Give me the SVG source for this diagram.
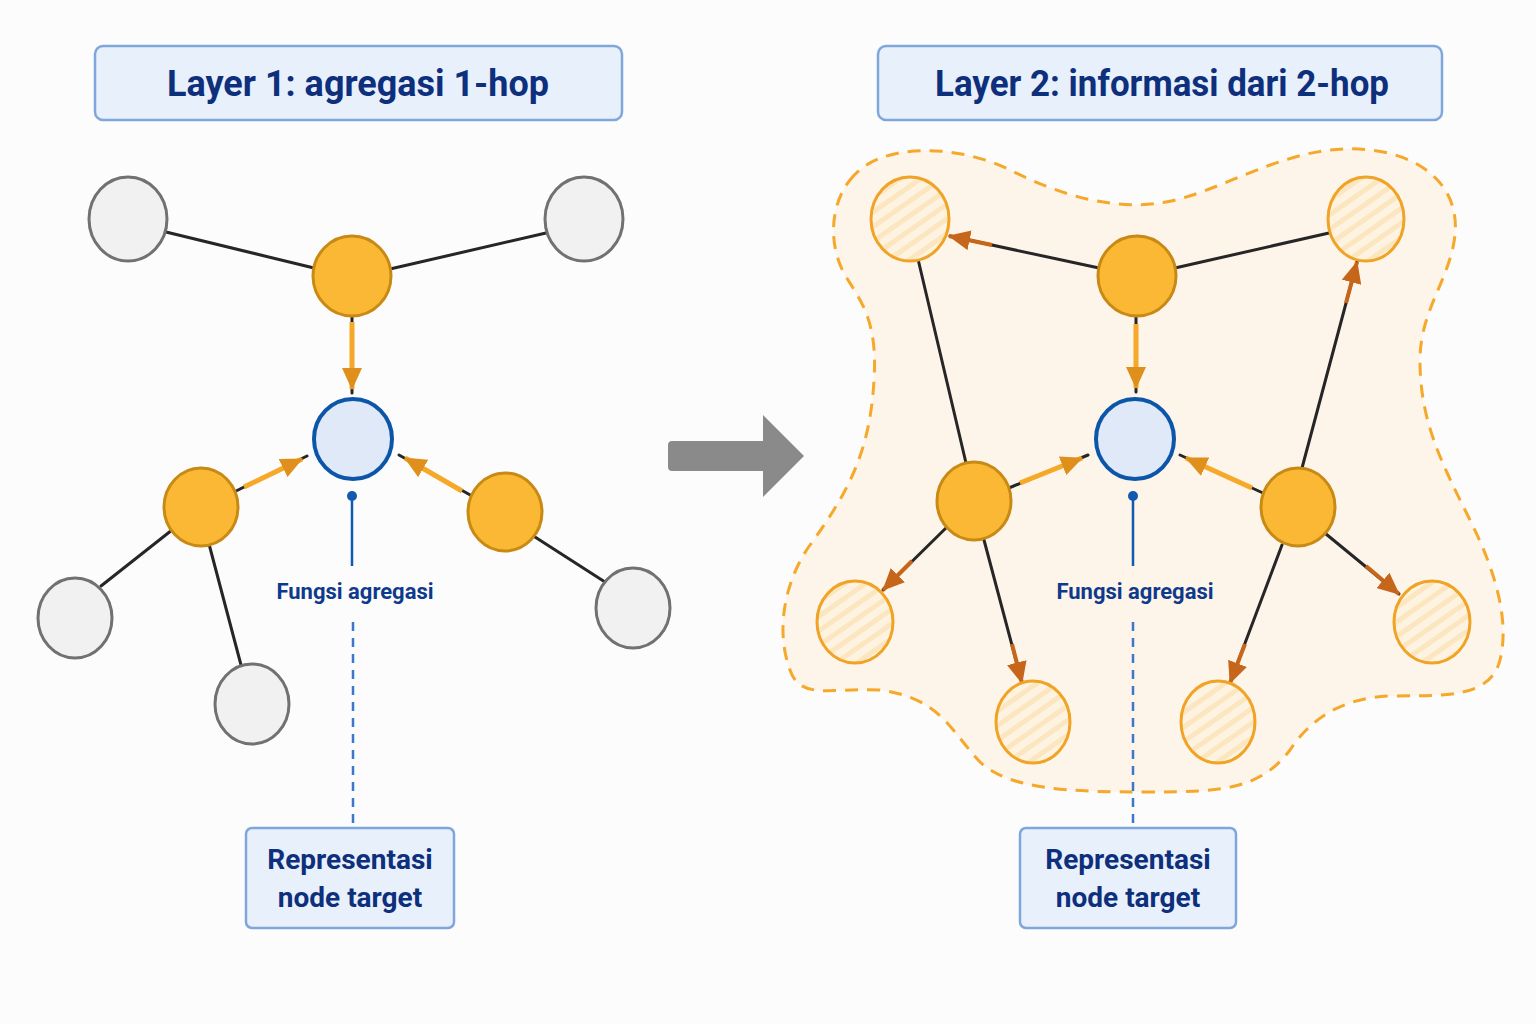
<svg xmlns="http://www.w3.org/2000/svg" width="1536" height="1024" viewBox="0 0 1536 1024">
<defs>
<style>
.title-box{fill:#e7f0fb;stroke:#7fa7dc;stroke-width:2.5}
.title{font-family:Roboto,"Liberation Sans",sans-serif;font-weight:700;font-size:36px;fill:#0e2f7c;text-anchor:middle}
.label{font-family:Roboto,"Liberation Sans",sans-serif;font-weight:700;font-size:22px;fill:#0e3a8c;text-anchor:middle}
.box-text{font-family:Roboto,"Liberation Sans",sans-serif;font-weight:700;font-size:28px;fill:#0e2f7c;text-anchor:middle}
.gray{fill:#f1f1f1;stroke:#717171;stroke-width:3}
.orange{fill:#fbb835;stroke:#c88a14;stroke-width:3}
.target{fill:#dfe9f7;stroke:#0c56a9;stroke-width:4}
.hatched{fill:url(#hatch);stroke:#f0a325;stroke-width:3}
.edge{stroke:#262626;stroke-width:3;fill:none;stroke-linecap:round}
.agg{stroke:#f6a929;stroke-width:5;fill:none;marker-end:url(#ah-orange)}
.hop{stroke:#c6661b;stroke-width:4;fill:none;marker-end:url(#ah-brown)}
.pin{stroke:#1259b0;stroke-width:2.5;fill:none}
.pin-dash{stroke:#3b78c8;stroke-width:2.5;fill:none;stroke-dasharray:9 7}
</style>
<pattern id="hatch" width="12" height="12" patternUnits="userSpaceOnUse" patternTransform="rotate(-35)">
<rect width="12" height="12" fill="#fef3e0"/>
<rect width="12" height="5" fill="#fce6c0"/>
</pattern>
<marker id="ah-orange" markerUnits="userSpaceOnUse" viewBox="0 0 22 20" markerWidth="22" markerHeight="20" refX="21" refY="10" orient="auto">
<path d="M0,0 L22,10 L0,20 Z" fill="#df901c"/>
</marker>
<marker id="ah-brown" markerUnits="userSpaceOnUse" viewBox="0 0 22 20" markerWidth="22" markerHeight="20" refX="21" refY="10" orient="auto">
<path d="M0,0 L22,10 L0,20 Z" fill="#c6661b"/>
</marker>
</defs>
<rect width="1536" height="1024" fill="#fcfcfc"/>

<g id="region">
<path d="M850,180 C880,140 960,145 1010,170 C1060,195 1110,210 1160,203 C1220,195 1290,140 1370,150 C1420,155 1460,185 1455,235 C1450,280 1420,310 1420,360 C1420,420 1440,460 1470,520 C1495,570 1510,620 1500,660 C1490,700 1440,695 1390,696 C1340,698 1310,720 1290,750 C1260,790 1220,792 1150,792 C1070,792 1010,790 980,762 C950,730 940,698 880,690 C830,688 800,700 790,670 C775,630 785,580 810,545 C850,490 870,450 874,380 C878,320 860,300 845,275 C828,245 830,205 850,180 Z" fill="#fdf4ea" stroke="#f5a82a" stroke-width="3" stroke-dasharray="13 9"/>
</g>

<g id="title1">
<rect class="title-box" x="95" y="46" width="527" height="74" rx="8"/>
<text class="title" x="358" y="96" textLength="382" lengthAdjust="spacingAndGlyphs">Layer 1: agregasi 1-hop</text>
</g>
<g id="title2">
<rect class="title-box" x="878" y="46" width="564" height="74" rx="8"/>
<text class="title" x="1162" y="96" textLength="454" lengthAdjust="spacingAndGlyphs">Layer 2: informasi dari 2-hop</text>
</g>

<g id="transition-arrow">
<path d="M672,441 L763,441 L763,415 L804,456 L763,497 L763,471 L672,471 Q668,471 668,467 L668,445 Q668,441 672,441 Z" fill="#8a8a8a"/>
</g>

<g id="connectors">
<line class="edge" x1="166" y1="232" x2="314" y2="268"/>
<line class="edge" x1="546" y1="233" x2="390" y2="269"/>
<line class="edge" x1="172" y1="530" x2="101" y2="586"/>
<line class="edge" x1="209" y1="544" x2="241" y2="665"/>
<line class="edge" x1="535" y1="537" x2="605" y2="582"/>
<line class="edge" x1="352" y1="315" x2="352" y2="393"/>
<line class="agg" x1="352" y1="322" x2="352" y2="389"/>
<line class="edge" x1="234" y1="492" x2="307" y2="456"/>
<line class="agg" x1="244" y1="487" x2="302" y2="459"/>
<line class="edge" x1="472" y1="496" x2="399" y2="455"/>
<line class="agg" x1="462" y1="491" x2="405" y2="458"/>

<line class="edge" x1="1175" y1="268" x2="1329" y2="233"/>
<line class="edge" x1="966" y1="463" x2="918" y2="259"/>
<line class="edge" x1="1099" y1="268" x2="950" y2="236"/>
<line class="hop" x1="992" y1="245" x2="949" y2="236"/>
<line class="edge" x1="1302" y1="468" x2="1357" y2="262"/>
<line class="hop" x1="1346" y1="303" x2="1357" y2="262"/>
<line class="edge" x1="948" y1="526" x2="883" y2="590"/>
<line class="hop" x1="912" y1="561" x2="883" y2="590"/>
<line class="edge" x1="984" y1="540" x2="1022" y2="683"/>
<line class="hop" x1="1012" y1="644" x2="1022" y2="683"/>
<line class="edge" x1="1282" y1="545" x2="1230" y2="683"/>
<line class="hop" x1="1245" y1="644" x2="1230" y2="683"/>
<line class="edge" x1="1326" y1="534" x2="1399" y2="594"/>
<line class="hop" x1="1366" y1="566" x2="1399" y2="594"/>

<line class="edge" x1="1136" y1="316" x2="1136" y2="392"/>
<line class="agg" x1="1136" y1="324" x2="1136" y2="388"/>
<line class="edge" x1="1009" y1="488" x2="1088" y2="455"/>
<line class="agg" x1="1020" y1="483" x2="1082" y2="458"/>
<line class="edge" x1="1263" y1="493" x2="1180" y2="455"/>
<line class="agg" x1="1252" y1="488" x2="1186" y2="458"/>

<circle cx="352" cy="496" r="5" fill="#1259b0"/>
<line class="pin" x1="352" y1="496" x2="352" y2="566"/>
<line class="pin-dash" x1="353" y1="622" x2="353" y2="828"/>
<circle cx="1133" cy="496" r="5" fill="#1259b0"/>
<line class="pin" x1="1133" y1="496" x2="1133" y2="566"/>
<line class="pin-dash" x1="1133" y1="622" x2="1133" y2="828"/>
</g>

<g id="l-gray-tl"><ellipse class="gray" cx="128" cy="219" rx="39" ry="42"/></g>
<g id="l-gray-tr"><ellipse class="gray" cx="584" cy="219" rx="39" ry="42"/></g>
<g id="l-gray-bl"><ellipse class="gray" cx="75" cy="618" rx="37" ry="40"/></g>
<g id="l-gray-bm"><ellipse class="gray" cx="252" cy="704" rx="37" ry="40"/></g>
<g id="l-gray-br"><ellipse class="gray" cx="633" cy="608" rx="37" ry="40"/></g>
<g id="l-orange-top"><ellipse class="orange" cx="352" cy="276" rx="39" ry="40"/></g>
<g id="l-orange-left"><ellipse class="orange" cx="201" cy="507" rx="37" ry="39"/></g>
<g id="l-orange-right"><ellipse class="orange" cx="505" cy="512" rx="37" ry="39"/></g>
<g id="l-target"><ellipse class="target" cx="353" cy="439" rx="39" ry="40"/></g>
<g id="l-label"><text class="label" x="355" y="599">Fungsi agregasi</text></g>
<g id="l-box">
<rect class="title-box" x="246" y="828" width="208" height="100" rx="6"/>
<text class="box-text" x="350" y="869">Representasi</text>
<text class="box-text" x="350" y="907">node target</text>
</g>

<g id="r-hatch-tl"><ellipse class="hatched" cx="910" cy="219" rx="39" ry="42"/></g>
<g id="r-hatch-tr"><ellipse class="hatched" cx="1366" cy="219" rx="38" ry="42"/></g>
<g id="r-hatch-ml"><ellipse class="hatched" cx="855" cy="622" rx="38" ry="41"/></g>
<g id="r-hatch-bl"><ellipse class="hatched" cx="1033" cy="722" rx="37" ry="41"/></g>
<g id="r-hatch-br"><ellipse class="hatched" cx="1218" cy="722" rx="37" ry="41"/></g>
<g id="r-hatch-mr"><ellipse class="hatched" cx="1432" cy="622" rx="38" ry="41"/></g>
<g id="r-orange-top"><ellipse class="orange" cx="1137" cy="276" rx="39" ry="40"/></g>
<g id="r-orange-left"><ellipse class="orange" cx="974" cy="501" rx="37" ry="39"/></g>
<g id="r-orange-right"><ellipse class="orange" cx="1298" cy="507" rx="37" ry="39"/></g>
<g id="r-target"><ellipse class="target" cx="1135" cy="439" rx="39" ry="40"/></g>
<g id="r-label"><text class="label" x="1135" y="599">Fungsi agregasi</text></g>
<g id="r-box">
<rect class="title-box" x="1020" y="828" width="216" height="100" rx="6"/>
<text class="box-text" x="1128" y="869">Representasi</text>
<text class="box-text" x="1128" y="907">node target</text>
</g>
</svg>
